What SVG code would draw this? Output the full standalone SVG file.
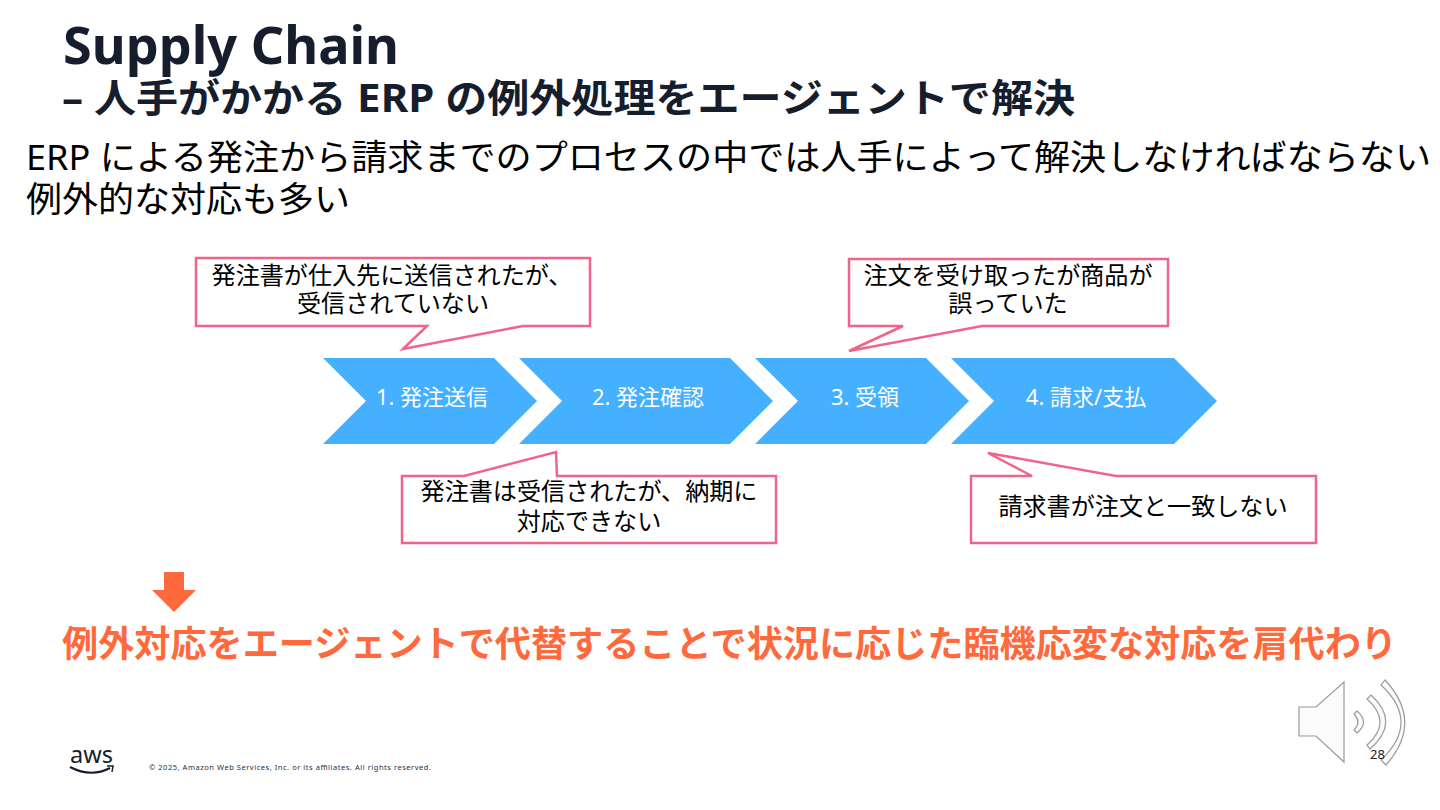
<svg xmlns="http://www.w3.org/2000/svg" width="1440" height="810" viewBox="0 0 1440 810">
<style>
text{font-family:"Noto Sans","Noto Sans CJK JP",sans-serif}
.h{fill:#161e2d;font-weight:700}
.b{fill:#000;font-size:35px}
.c{fill:#000;font-size:24.1px;text-anchor:middle}
.s{fill:#fff;font-size:22px;text-anchor:middle}
.box{fill:#fff;stroke:#f0648c;stroke-width:2.5}
.chev{fill:#44b0ff}
.w{fill:#fbfbfb;stroke:#9a9a9a;stroke-width:1.2}
</style>
<rect width="1440" height="810" fill="#fff"/>
<g id="title">
<text class="h" x="63" y="64" font-size="52" textLength="336" lengthAdjust="spacingAndGlyphs">Supply Chain</text>
<text class="h" x="62" y="112" font-size="39" textLength="1013" lengthAdjust="spacingAndGlyphs">– 人手がかかる ERP の例外処理をエージェントで解決</text>
</g>
<g id="body">
<text class="b" x="26" y="170" textLength="1405" lengthAdjust="spacingAndGlyphs">ERP による発注から請求までのプロセスの中では人手によって解決しなければならない</text>
<text class="b" x="26" y="212" textLength="324" lengthAdjust="spacingAndGlyphs">例外的な対応も多い</text>
</g>
<g id="step1"><polygon class="chev" points="323,358 494,358 537,401 494,444 323,444 366,401"/><text class="s" x="432" y="405">1. 発注送信</text></g>
<g id="step2"><polygon class="chev" points="519,358 730,358 773,401 730,444 519,444 562,401"/><text class="s" x="648" y="405">2. 発注確認</text></g>
<g id="step3"><polygon class="chev" points="755,358 926,358 969,401 926,444 755,444 798,401"/><text class="s" x="865" y="405">3. 受領</text></g>
<g id="step4"><polygon class="chev" points="951,358 1174,358 1217,401 1174,444 951,444 994,401"/><text class="s" x="1086" y="405">4. 請求/支払</text></g>
<g id="note1"><polygon class="box" points="196,258 590,258 590,326 523,326 403,349 427,326 196,326"/><text class="c" x="392" y="284">発注書が仕入先に送信されたが、</text><text class="c" x="393" y="312">受信されていない</text></g>
<g id="note2"><polygon class="box" points="849,259 1168,259 1168,326 982,326 849,351 903,326 849,326"/><text class="c" x="1008" y="284">注文を受け取ったが商品が</text><text class="c" x="1008" y="312">誤っていた</text></g>
<g id="note3"><polygon class="box" points="402,476 464,476 556,452 557,476 776,476 776,543 402,543"/><text class="c" x="589" y="500">発注書は受信されたが、納期に</text><text class="c" x="589" y="530">対応できない</text></g>
<g id="note4"><polygon class="box" points="971,476 1032,476 988,453 1116,476 1316,476 1316,543 971,543"/><text class="c" x="1143" y="515">請求書が注文と一致しない</text></g>
<g id="down-arrow"><polygon fill="#ff693c" points="164,572 184,572 184,590 196,590 174,612 152,590 164,590"/></g>
<g id="conclusion"><text x="62" y="657" font-size="36" font-weight="700" fill="#ff693c" textLength="1335" lengthAdjust="spacingAndGlyphs">例外対応をエージェントで代替することで状況に応じた臨機応変な対応を肩代わり</text></g>
<g id="speaker">
<path class="w" d="M1299,707H1316L1344,682V762L1316,736H1299Z"/>
<path class="w" d="M1354,714L1357,711Q1370,722 1357,733L1354,730Q1362,722 1354,714Z"/>
<path class="w" d="M1367,699L1371,695Q1401,722 1370,749L1367,745Q1393,722 1367,699Z"/>
<path class="w" d="M1381,685L1385,680Q1424,722 1386,765L1381,760Q1421,722 1381,685Z"/>
</g>
<g id="footer">
<text x="70" y="763" font-size="23" fill="#161e2d" textLength="43" lengthAdjust="spacingAndGlyphs">aws</text>
<path d="M70,767Q91,778 110,768" fill="none" stroke="#161e2d" stroke-width="2"/>
<path d="M107,766L113,766L112,772" fill="none" stroke="#161e2d" stroke-width="1.5"/>
<text x="149" y="770" font-size="7.5" fill="#232f3e" textLength="282" lengthAdjust="spacing">© 2025, Amazon Web Services, Inc. or its affiliates. All rights reserved.</text>
<text x="1370" y="759" font-size="13" fill="#222">28</text>
</g>
</svg>
